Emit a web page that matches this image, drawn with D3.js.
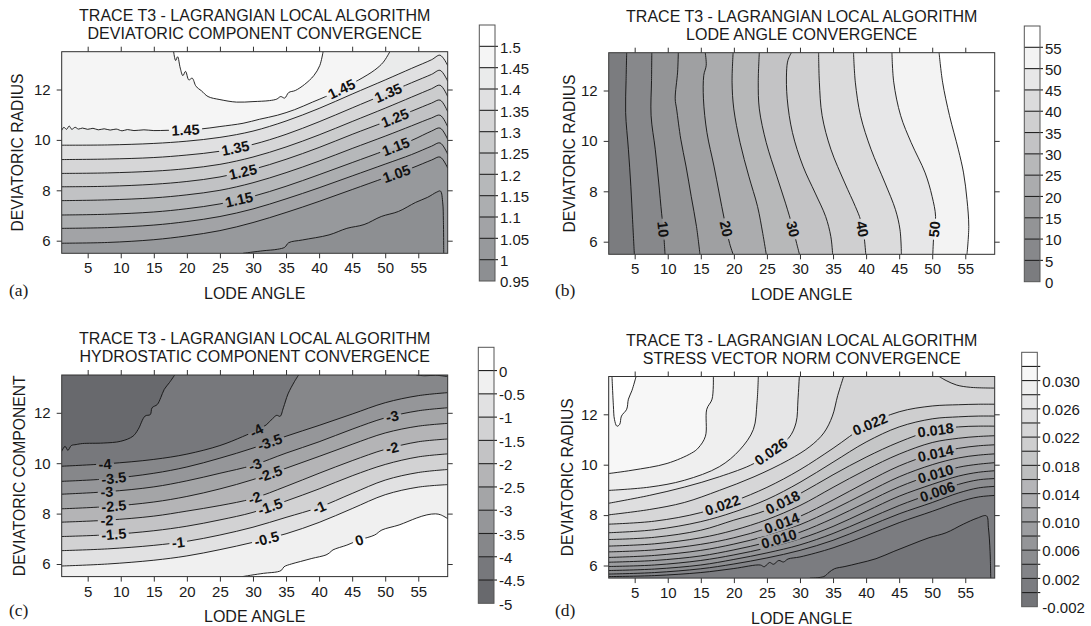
<!DOCTYPE html>
<html>
<head>
<meta charset="utf-8">
<title>Trace T3 - Lagrangian local algorithm</title>
<script src="https://cdn.jsdelivr.net/npm/d3@7"></script>
<style>
  body { margin: 0; background: #fff; }
  svg { display: block; }
  text { font-family: "Liberation Sans", Arial, Helvetica, sans-serif; fill: #1a1a1a; }
</style>
</head>
<body>
<svg id="chart" width="1091" height="626"></svg>
<script>
// shared axes
const xDomain = [1.07, 59.45];
const yDomain = [5.5, 13.5];
const xTicks = [5, 10, 15, 20, 25, 30, 35, 40, 45, 50, 55];
const yTicks = [6, 8, 10, 12];

// contour pieces are [level, points]; points run so that the higher values lie on the left of travel
// (panel c is written left-to-right and reversed in code)

// (a) deviatoric component convergence
const levelsA = [1.00, 1.05, 1.10, 1.15, 1.20, 1.25, 1.30, 1.35, 1.40, 1.45, 1.50];
const cbRangeA = [0.95, 1.55];
const cbTicksA = [1.5, 1.45, 1.4, 1.35, 1.3, 1.25, 1.2, 1.15, 1.1, 1.05, 1, 0.95];
const contoursA = [
  [1.00, [[28.5,5.5],[31.5,5.6],[33.7,5.66],[34.8,5.74],[35.4,5.92],[37.5,6.03],[41.5,6.23],[44.2,6.49],[46.8,6.64],[49.4,6.96],[52,7.16],[54.6,7.52],[56.4,7.72],[57.8,7.93],[58.35,7.97],[58.7,7.5],[58.8,6.8],[58.85,5.5]]],
  [1.05, [[1.07,5.9],[8,5.93],[15,6.04],[20,6.19],[25,6.4],[30,6.72],[35,7.12],[40,7.56],[45,8.03],[50,8.5],[54,8.88],[57,9.2],[58.3,9.32],[59.45,8.88]]],
  [1.10, [[1.07,6.49],[8,6.52],[15,6.62],[20,6.76],[25,6.96],[30,7.26],[35,7.66],[40,8.1],[45,8.57],[50,9.04],[54,9.42],[57,9.75],[58.3,9.88],[59.45,9.43]]],
  [1.15, [[1.07,7.02],[8,7.05],[15,7.14],[20,7.27],[25,7.46],[30,7.76],[35,8.16],[40,8.62],[45,9.1],[50,9.58],[54,9.98],[57,10.35],[58.3,10.47],[59.45,10.02]]],
  [1.20, [[1.07,7.59],[8,7.62],[15,7.7],[20,7.82],[25,8.0],[30,8.3],[35,8.7],[40,9.16],[45,9.66],[50,10.15],[54,10.56],[57,10.87],[58.3,10.98],[59.45,10.52]]],
  [1.25, [[1.07,8.14],[8,8.16],[15,8.24],[20,8.35],[25,8.53],[30,8.83],[35,9.23],[40,9.7],[45,10.22],[50,10.72],[54,11.14],[57,11.46],[58.3,11.58],[59.45,11.12]]],
  [1.30, [[1.07,8.67],[8,8.69],[15,8.76],[20,8.86],[25,9.03],[30,9.32],[35,9.72],[40,10.2],[45,10.73],[50,11.26],[54,11.7],[57,12.03],[58.3,12.17],[59.45,11.72]]],
  [1.35, [[1.07,9.22],[8,9.24],[15,9.3],[20,9.4],[25,9.55],[30,9.82],[35,10.22],[40,10.72],[45,11.27],[50,11.82],[54,12.27],[57,12.6],[58.3,12.76],[59.45,12.33]]],
  [1.40, [[1.07,9.79],[8,9.8],[15,9.86],[20,9.95],[25,10.1],[30,10.35],[35,10.75],[40,11.25],[45,11.82],[50,12.38],[54,12.84],[57,13.18],[58.3,13.36],[59.45,12.95]]],
  [1.45, [[1.07,10.38],[1.4,10.5],[1.8,10.42],[2.2,10.55],[2.6,10.42],[3.1,10.5],[3.6,10.43],[4.2,10.47],[5,10.42],[5.8,10.46],[6.6,10.4],[7.5,10.44],[8.4,10.39],[9.3,10.43],[10.2,10.36],[11,10.41],[12,10.37],[13.5,10.4],[15,10.37],[17,10.38],[19,10.39],[22,10.43],[25,10.53],[28.5,10.66],[31,10.82],[33.7,10.98],[36.3,11.2],[39,11.5],[41,11.72],[43.4,12.02],[46,12.38],[48.4,12.77],[49.7,13.08],[50.7,13.5]]],
  [1.50, [[18.0,13.5],[18.3,13.15],[18.6,13.3],[19.0,12.85],[19.4,12.55],[19.8,12.72],[20.3,12.38],[20.8,12.45],[21.4,12.12],[22.2,11.95],[23.2,11.72],[25,11.6],[27.5,11.5],[30,11.52],[32.5,11.56],[33.6,11.62],[34.2,11.72],[34.8,11.66],[35.4,11.88],[36.4,11.96],[37.8,12.2],[39.2,12.55],[40.1,12.95],[40.6,13.5]]]
];
const labelsA = [["1.45",19.8,10.39],["1.35",27.4,9.6],["1.25",28.5,8.7],["1.15",27.9,7.62],
  ["1.45",43.4,12.02],["1.35",50.4,11.9],["1.25",51.5,10.85],["1.15",51.7,9.66],["1.05",51.7,8.67]];

// (b) lode angle convergence
const levelsB = [5, 10, 15, 20, 25, 30, 35, 40, 45, 50, 55];
const cbRangeB = [0, 60];
const cbTicksB = [55, 50, 45, 40, 35, 30, 25, 20, 15, 10, 5, 0];
const contoursB = [
  [5,  [[3.79,13.5],[3.7,12.4],[3.63,11.13],[4.05,9.67],[4.42,8.2],[4.68,6.87],[4.95,5.5]]],
  [10, [[7.59,13.5],[7.55,12.4],[7.48,11.0],[8.11,9.67],[8.64,8.33],[9.07,7.13],[9.33,6.5],[9.59,5.5]]],
  [15, [[11.6,13.5],[11.49,12.73],[11.13,11.67],[11.34,11.27],[11.97,10.07],[12.76,9.0],[13.55,7.8],[14.35,6.6],[14.87,5.5]]],
  [20, [[15.67,13.5],[15.82,13.0],[15.45,12.6],[15.4,11.67],[15.93,10.33],[16.99,9.0],[17.78,7.93],[18.57,6.87],[19.36,5.93],[19.89,5.5]]],
  [25, [[19.89,13.5],[19.73,12.33],[19.99,11.27],[20.94,9.93],[22.26,8.6],[23.58,7.4],[24.37,6.33],[24.9,5.5]]],
  [30, [[23.85,13.5],[23.69,12.33],[23.85,11.27],[24.9,9.93],[26.49,8.6],[27.81,7.53],[28.86,6.6],[29.5,5.93],[29.92,5.5]]],
  [35, [[28.7,13.5],[28.18,13.2],[27.97,12.73],[28.07,11.67],[28.86,10.33],[30.45,9.0],[32.3,7.93],[33.88,7.0],[34.67,6.2],[34.94,5.5]]],
  [40, [[32.82,13.5],[32.93,12.33],[33.35,11.0],[34.67,9.67],[36.78,8.33],[38.37,7.4],[39.16,6.87],[39.69,6.2],[39.95,5.5]]],
  [45, [[38.1,13.5],[38.37,12.33],[39.16,11.0],[40.74,9.67],[42.86,8.33],[44.44,7.27],[45.13,6.47],[45.34,5.5]]],
  [50, [[43.91,13.5],[44.18,12.33],[45.23,11.0],[46.82,9.93],[48.93,8.73],[49.98,7.8],[50.51,7.0],[50.25,6.33],[50.09,5.5]]],
  [55, [[51.04,13.5],[51.57,12.33],[52.62,11.0],[53.94,9.67],[54.74,8.73],[55.26,7.67],[55.53,6.6],[55.26,5.5]]]
];
const labelsB = [["10",9.33,6.5],["20",18.57,6.5],["30",28.86,6.5],["40",39.42,6.5],["50",50.25,6.5]];

// (c) hydrostatic component convergence
const levelsC = [-4.5, -4, -3.5, -3, -2.5, -2, -1.5, -1, -0.5, 0];
const cbRangeC = [-5, 0.5];
const cbTicksC = [0, -0.5, -1, -1.5, -2, -2.5, -3, -3.5, -4, -4.5, -5];
const contoursC = [
  [-4.5, [[1.07,10.47],[1.58,10.67],[2.0,10.51],[2.53,10.7],[3.26,10.74],[4.21,10.78],[7.37,10.8],[10.0,10.87],[11.84,11.07],[12.63,11.34],[13.68,11.87],[14.47,11.93],[14.74,12.2],[15.53,12.33],[16.05,12.6],[16.58,12.93],[17.37,13.2],[18.16,13.5]]],
  [-4, [[1.07,9.88],[8,9.98],[15,10.15],[20,10.36],[25,10.7],[28.4,11.05],[30.5,11.3],[32,11.52],[33,11.78],[33.6,11.9],[34.1,11.86],[34.6,12.2],[35.3,12.75],[36.3,13.25],[36.9,13.5]]],
  [-4, [[54.7,13.5],[56,13.47],[57.6,13.49],[59.45,13.44]]],
  [-3.5, [[1.07,9.28],[8,9.38],[15,9.6],[20,9.85],[25,10.2],[30,10.6],[35,11.07],[40,11.5],[45,11.95],[50,12.4],[55,12.68],[59.45,12.8]]],
  [-3, [[1.07,8.77],[8,8.87],[15,9.06],[20,9.3],[25,9.6],[30,9.92],[35,10.4],[40,10.85],[45,11.35],[50,11.8],[55,12.08],[59.45,12.2]]],
  [-2.5, [[1.07,8.19],[8,8.28],[15,8.46],[20,8.68],[25,8.98],[30,9.35],[35,9.8],[40,10.27],[45,10.75],[50,11.2],[55,11.47],[59.45,11.58]]],
  [-2, [[1.07,7.66],[8,7.74],[15,7.9],[20,8.1],[25,8.32],[30,8.6],[35,9.08],[40,9.6],[45,10.1],[50,10.55],[55,10.85],[59.45,10.96]]],
  [-1.5, [[1.07,7.09],[8,7.16],[15,7.32],[20,7.5],[25,7.75],[30,8.05],[35,8.5],[40,8.98],[45,9.5],[50,9.95],[55,10.25],[59.45,10.37]]],
  [-1, [[1.07,6.53],[8,6.6],[15,6.74],[20,6.9],[25,7.15],[30,7.46],[35,7.85],[40,8.25],[45,8.8],[50,9.33],[55,9.63],[59.45,9.75]]],
  [-0.5, [[1.07,5.92],[8,6.0],[15,6.15],[20,6.32],[25,6.57],[30,6.86],[35,7.2],[40,7.65],[45,8.2],[50,8.75],[55,9.05],[59.45,9.15]]],
  [0, [[28.4,5.5],[31.6,5.63],[33.7,5.69],[34.3,5.75],[34.7,5.89],[35.8,6.0],[37.2,6.1],[38.9,6.22],[41.05,6.36],[41.6,6.45],[42.1,6.56],[44.2,6.75],[46.05,6.95],[48.4,7.15],[49.5,7.35],[52.1,7.55],[54.7,7.82],[56.3,7.95],[57.6,7.99],[58.4,7.95],[59.45,7.8]]]
];
const labelsC = [["-4",7.63,9.94],["-3.5",8.95,9.4],["-3",7.9,8.87],["-2.5",8.95,8.3],["-2",7.9,7.75],["-1.5",8.95,7.17],["-1",18.7,6.85],
  ["-4",30.5,11.3],["-3.5",32.6,10.8],["-3",30.3,9.94],["-2.5",32.6,9.54],["-2",30.3,8.61],["-1.5",32.6,8.28],["-1",40,8.25],["-0.5",32.1,6.95],["0",46.05,6.95],
  ["-3",51.05,11.89],["-2",51.05,10.6]];

// (d) stress vector norm convergence
const levelsD = [0, 0.002, 0.004, 0.006, 0.008, 0.010, 0.012, 0.014, 0.016, 0.018, 0.020, 0.022, 0.024, 0.026, 0.028, 0.030, 0.032];
const cbRangeD = [-0.002, 0.034];
const cbTicksD = [0.030, 0.026, 0.022, 0.018, 0.014, 0.010, 0.006, 0.002, -0.002];
const contoursD = [
  [0, [[31.5,5.5],[33.6,5.56],[34.4,5.73],[35.2,5.87],[36.8,5.96],[38.9,6.09],[41.5,6.27],[44.2,6.56],[46.8,6.83],[49.5,7.1],[52.1,7.3],[54.7,7.64],[56.8,7.88],[58.2,7.97],[58.5,7.5],[58.75,6.56],[58.85,5.5]]],
  [0.002, [[1.07,5.56],[8,5.6],[15,5.72],[20,5.88],[24,6.02],[24.6,5.95],[25.4,6.12],[26,6.05],[26.8,6.2],[27.5,6.14],[28.2,6.26],[30,6.34],[35,6.7],[40,7.18],[45,7.7],[50,8.15],[54,8.52],[57,8.72],[59.45,8.78]]],
  [0.004, [[1.07,5.66],[8,5.72],[15,5.87],[20,6.06],[25,6.3],[30,6.6],[35,7.0],[40,7.52],[45,8.05],[50,8.5],[54,8.88],[57,9.08],[59.45,9.14]]],
  [0.006, [[1.07,5.8],[8,5.86],[15,6.02],[20,6.24],[25,6.5],[30,6.82],[35,7.27],[40,7.82],[45,8.38],[50,8.86],[54,9.22],[57,9.4],[59.45,9.45]]],
  [0.008, [[1.07,5.96],[8,6.02],[15,6.2],[20,6.42],[25,6.7],[30,7.06],[35,7.55],[40,8.15],[45,8.75],[50,9.22],[54,9.55],[57,9.7],[59.45,9.76]]],
  [0.010, [[1.07,6.13],[8,6.2],[15,6.38],[20,6.62],[25,6.92],[30,7.32],[35,7.87],[40,8.5],[45,9.12],[50,9.6],[54,9.9],[57,10.02],[59.45,10.08]]],
  [0.012, [[1.07,6.32],[8,6.4],[15,6.6],[20,6.85],[25,7.18],[30,7.62],[35,8.22],[40,8.88],[45,9.52],[50,10.0],[54,10.27],[57,10.38],[59.45,10.43]]],
  [0.014, [[1.07,6.54],[8,6.62],[15,6.84],[20,7.1],[25,7.47],[30,7.95],[35,8.6],[40,9.3],[45,9.95],[50,10.42],[54,10.65],[57,10.75],[59.45,10.79]]],
  [0.016, [[1.07,6.77],[8,6.86],[15,7.1],[20,7.4],[25,7.82],[30,8.38],[35,9.1],[40,9.8],[45,10.42],[50,10.88],[54,11.05],[57,11.12],[59.45,11.15]]],
  [0.018, [[1.07,7.03],[8,7.12],[15,7.4],[20,7.8],[25,8.2],[30,8.85],[35,9.6],[40,10.3],[45,10.9],[50,11.36],[54,11.5],[57,11.53],[59.45,11.53]]],
  [0.020, [[1.07,7.3],[8,7.42],[15,7.74],[20,8.12],[25,8.62],[30,9.3],[35,10.1],[40,10.9],[45,11.5],[50,11.82],[54,11.9],[57,11.93],[59.45,11.93]]],
  [0.022, [[1.07,7.64],[8,7.76],[15,8.1],[20,8.55],[25,9.1],[30,9.8],[35,10.65],[40,11.55],[45,12.1],[50,12.33],[54,12.38],[57,12.4],[59.45,12.4]]],
  [0.022, [[59.45,13.04],[55.8,13.07],[53.7,13.16],[52.1,13.34],[51.04,13.5]]],
  [0.024, [[1.07,8.01],[7.2,8.22],[12.5,8.5],[17.8,8.98],[23.05,9.52],[28.3,10.19],[31.5,10.72],[33.6,11.26],[34.9,11.93],[35.7,12.74],[36.6,13.5]]],
  [0.026, [[1.07,8.47],[7.2,8.78],[12.5,9.11],[17.8,9.52],[23.05,10.05],[25.6,10.52],[28.3,11.06],[29.4,11.66],[29.7,12.6],[29.9,13.5]]],
  [0.028, [[1.07,8.98],[7.2,9.11],[12.5,9.38],[17.8,9.92],[20.9,10.59],[22.95,11.4],[23.5,12.47],[23.7,13.5]]],
  [0.030, [[1.07,9.65],[4.6,9.78],[9.9,10.05],[13.6,10.46],[14.6,10.66],[15.7,11.13],[15.9,12.2],[16.7,12.6],[16.9,13.5]]],
  [0.032, [[1.57,13.5],[1.78,12.34],[1.94,11.8],[2.31,11.53],[2.73,11.6],[3.0,11.93],[3.79,12.2],[4.05,12.6],[4.58,12.94],[5.21,13.5]]]
];
const labelsD = [["0.026",25.6,10.52],["0.022",18.3,8.38],["0.022",40.5,11.66],["0.018",27.5,8.44],["0.018",50.5,11.4],
  ["0.014",27.3,7.64],["0.014",50.5,10.46],["0.010",26.75,7.1],["0.010",50.5,9.65],["0.006",50.8,8.91]];

const titleTop = "TRACE T3 - LAGRANGIAN LOCAL ALGORITHM";

// plot size
const W = 386, H = 201.6;

const panels = [
  {key: "a", left: 61.7, top: 51.7, title2: "DEVIATORIC COMPONENT CONVERGENCE", yTitle: "DEVIATORIC RADIUS", yTitleX: 17,
   letter: "(a)", letterX: 9, letterY: 296, levels: levelsA, contours: contoursA, labels: labelsA, reverse: false,
   dark: "#8d8f92", cb: {x: 479.3, w: 15.7, top: 25, bottom: 281}, cbRange: cbRangeA, cbTicks: cbTicksA, fmt: v => String(v)},
  {key: "b", left: 608.7, top: 52.7, title2: "LODE ANGLE CONVERGENCE", yTitle: "DEVIATORIC RADIUS", yTitleX: 569,
   letter: "(b)", letterX: 555, letterY: 296, levels: levelsB, contours: contoursB, labels: labelsB, reverse: false,
   dark: "#7b7c7f", cb: {x: 1024.3, w: 15.7, top: 26, bottom: 281.7}, cbRange: cbRangeB, cbTicks: cbTicksB, fmt: v => String(v)},
  {key: "c", left: 61.7, top: 375, title2: "HYDROSTATIC COMPONENT CONVERGENCE", yTitle: "DEVIATORIC COMPONENT", yTitleX: 19,
   letter: "(c)", letterX: 9, letterY: 616, levels: levelsC, contours: contoursC, labels: labelsC, reverse: true,
   dark: "#68696d", cb: {x: 478.3, w: 15.7, top: 347.3, bottom: 603.3}, cbRange: cbRangeC, cbTicks: cbTicksC, fmt: v => String(v)},
  {key: "d", left: 608.7, top: 376.5, title2: "STRESS VECTOR NORM CONVERGENCE", yTitle: "DEVIATORIC RADIUS", yTitleX: 567,
   letter: "(d)", letterX: 555, letterY: 616, levels: levelsD, contours: contoursD, labels: labelsD, reverse: false,
   dark: "#737478", cb: {x: 1021.7, w: 15.6, top: 352.3, bottom: 606.7}, cbRange: cbRangeD, cbTicks: cbTicksD, fmt: v => v.toFixed(3)}
];

const svg = d3.select("#chart");
const defs = svg.append("defs");

const x = d3.scaleLinear().domain(xDomain).range([0, W]);
const y = d3.scaleLinear().domain(yDomain).range([H, 0]);
const curve = d3.line().x(d => d[0]).y(d => d[1]).curve(d3.curveCatmullRom.alpha(0.5));

// position of a boundary point along the frame, going round counter-clockwise on screen
const P = 2 * W + 2 * H;
function perimT([px, py]) {
  if (py >= H - 1e-6) return px;
  if (px >= W - 1e-6) return W + (H - py);
  if (py <= 1e-6) return W + H + (W - px);
  return 2 * W + H + py;
}
function snap([px, py]) {
  const d = [Math.abs(py), Math.abs(W - px), Math.abs(H - py), Math.abs(px)];
  const k = d.indexOf(d3.min(d));
  if (k === 0) return [px, 0];
  if (k === 1) return [W, py];
  if (k === 2) return [px, H];
  return [0, py];
}
const corners = [[W, H], [W, 0], [0, 0], [0, H]];
// closed outline of the low side of a contour piece
function lowSide(s) {
  const te = perimT(s[s.length - 1]), ts = perimT(s[0]);
  const span = ((te - ts) % P + P) % P;
  const cs = corners.map(c => ({c, off: ((te - perimT(c)) % P + P) % P}))
    .filter(o => o.off > 0 && o.off < span)
    .sort((a, b) => a.off - b.off);
  return curve(s) + cs.map(o => `L${o.c[0]},${o.c[1]}`).join("") + "Z";
}
function nearest(s, q) {
  let best = null;
  for (let i = 0; i < s.length - 1; i++) {
    const a = s[i], b = s[i + 1];
    const dx = b[0] - a[0], dy = b[1] - a[1];
    const L2 = dx * dx + dy * dy || 1;
    let t = ((q[0] - a[0]) * dx + (q[1] - a[1]) * dy) / L2;
    t = Math.max(0, Math.min(1, t));
    const px = a[0] + t * dx, py = a[1] + t * dy;
    const d = (px - q[0]) ** 2 + (py - q[1]) ** 2;
    if (!best || d < best.d) best = {d, x: px, y: py, ang: Math.atan2(dy, dx) * 180 / Math.PI};
  }
  return best;
}

panels.forEach(p => {
  const g = svg.append("g").attr("transform", `translate(${p.left},${p.top})`);
  const nb = p.levels.length + 1;
  const color = i => d3.interpolateRgb(p.dark, "#ffffff")(i / (nb - 1));

  defs.append("clipPath").attr("id", "clip-" + p.key)
    .append("rect").attr("width", W).attr("height", H);
  const body = g.append("g").attr("clip-path", `url(#clip-${p.key})`);

  // contour pieces in screen coordinates
  const pieces = p.contours.map(([lev, pts]) => {
    let s = pts.map(d => [x(d[0]), y(d[1])]);
    if (p.reverse) s = s.slice().reverse();
    s[0] = snap(s[0]);
    s[s.length - 1] = snap(s[s.length - 1]);
    return {lev, s};
  });

  // filled bands, lowest first
  body.append("rect").attr("width", W).attr("height", H).attr("fill", color(0));
  p.levels.forEach((lev, k) => {
    const mine = pieces.filter(c => Math.abs(c.lev - lev) < 1e-9);
    if (!mine.length) return;
    body.append("path")
      .attr("d", `M0,0H${W}V${H}H0Z` + mine.map(c => lowSide(c.s)).join(""))
      .attr("fill-rule", "evenodd")
      .attr("fill", color(k + 1));
  });

  // label gaps
  const mask = defs.append("mask").attr("id", "mask-" + p.key)
    .attr("maskUnits", "userSpaceOnUse")
    .attr("x", -5).attr("y", -5).attr("width", W + 10).attr("height", H + 10);
  mask.append("rect").attr("x", -5).attr("y", -5).attr("width", W + 10).attr("height", H + 10).attr("fill", "#fff");

  body.append("g").attr("mask", `url(#mask-${p.key})`)
    .selectAll("path").data(pieces).join("path")
    .attr("d", c => curve(c.s))
    .attr("fill", "none")
    .attr("stroke", "#111")
    .attr("stroke-width", 0.9);

  const lab = body.append("g");
  p.labels.forEach(([txt, lx, ly]) => {
    const q = [x(lx), y(ly)];
    let best = null;
    pieces.filter(c => Math.abs(c.lev - (+txt)) < 1e-9).forEach(c => {
      const n = nearest(c.s, q);
      if (!best || n.d < best.d) best = n;
    });
    let ang = best.ang;
    if (ang > 90) ang -= 180;
    if (ang <= -90) ang += 180;
    const tr = `translate(${best.x},${best.y}) rotate(${ang})`;
    const t = lab.append("text").attr("transform", tr)
      .attr("text-anchor", "middle").attr("dy", "0.36em")
      .attr("font-size", 14.5).attr("font-weight", "bold")
      .style("fill", "#111").text(txt);
    const w = t.node().getComputedTextLength();
    mask.append("rect").attr("transform", tr)
      .attr("x", -w / 2 - 2.5).attr("y", -6.5).attr("width", w + 5).attr("height", 13).attr("fill", "#000");
  });

  // frame and ticks
  const styleAxis = a => {
    a.attr("font-size", 15).attr("font-family", "'Liberation Sans', Arial, sans-serif").attr("color", "#333");
    a.select(".domain").remove();
    a.selectAll("text").style("fill", "#1a1a1a");
  };
  g.append("g").attr("transform", `translate(0,${H})`)
    .call(d3.axisBottom(x).tickValues(xTicks).tickSize(5).tickPadding(4.5).tickSizeOuter(0)).call(styleAxis);
  g.append("g")
    .call(d3.axisTop(x).tickValues(xTicks).tickSize(5).tickFormat("").tickSizeOuter(0)).call(styleAxis);
  g.append("g")
    .call(d3.axisLeft(y).tickValues(yTicks).tickSize(5).tickPadding(6).tickSizeOuter(0)).call(styleAxis);
  g.append("g").attr("transform", `translate(${W},0)`)
    .call(d3.axisRight(y).tickValues(yTicks).tickSize(5).tickFormat("").tickSizeOuter(0)).call(styleAxis);
  g.append("rect").attr("width", W).attr("height", H)
    .attr("fill", "none").attr("stroke", "#333").attr("stroke-width", 1);

  // titles
  const cx = p.left + W / 2;
  svg.append("text").attr("x", cx).attr("y", p.top - 31).attr("text-anchor", "middle").attr("font-size", 16).text(titleTop);
  svg.append("text").attr("x", cx).attr("y", p.top - 13).attr("text-anchor", "middle").attr("font-size", 16).text(p.title2);
  svg.append("text").attr("x", cx).attr("y", p.top + H + 45.5).attr("text-anchor", "middle").attr("font-size", 16).text("LODE ANGLE");
  svg.append("text")
    .attr("transform", `translate(${p.yTitleX},${p.top + H / 2}) rotate(-90)`)
    .attr("dy", "0.35em").attr("text-anchor", "middle").attr("font-size", 15.7).text(p.yTitle);
  svg.append("text").attr("x", p.letterX).attr("y", p.letterY)
    .style("font-family", "'Liberation Serif', 'Times New Roman', serif").attr("font-size", 17.5).text(p.letter);

  // colour bar
  const cb = p.cb;
  const cy = d3.scaleLinear().domain(p.cbRange).range([cb.bottom, cb.top]);
  const cbg = svg.append("g");
  const bounds = [p.cbRange[0], ...p.levels, p.cbRange[1]];
  cbg.selectAll("rect.band").data(d3.range(nb)).join("rect")
    .attr("class", "band")
    .attr("x", cb.x).attr("width", cb.w)
    .attr("y", i => cy(bounds[i + 1])).attr("height", i => cy(bounds[i]) - cy(bounds[i + 1]))
    .attr("fill", i => color(i));
  cbg.selectAll("line").data(p.levels).join("line")
    .attr("x1", cb.x).attr("x2", cb.x + cb.w + 3)
    .attr("y1", d => cy(d)).attr("y2", d => cy(d))
    .attr("stroke", "#222").attr("stroke-width", 1.1);
  cbg.append("rect").attr("x", cb.x).attr("y", cb.top).attr("width", cb.w).attr("height", cb.bottom - cb.top)
    .attr("fill", "none").attr("stroke", "#555").attr("stroke-width", 1);
  cbg.selectAll("text").data(p.cbTicks).join("text")
    .attr("x", cb.x + cb.w + 5).attr("y", d => cy(d) + 1).attr("dy", "0.35em")
    .attr("font-size", 15).text(p.fmt);
});
</script>
</body>
</html>
